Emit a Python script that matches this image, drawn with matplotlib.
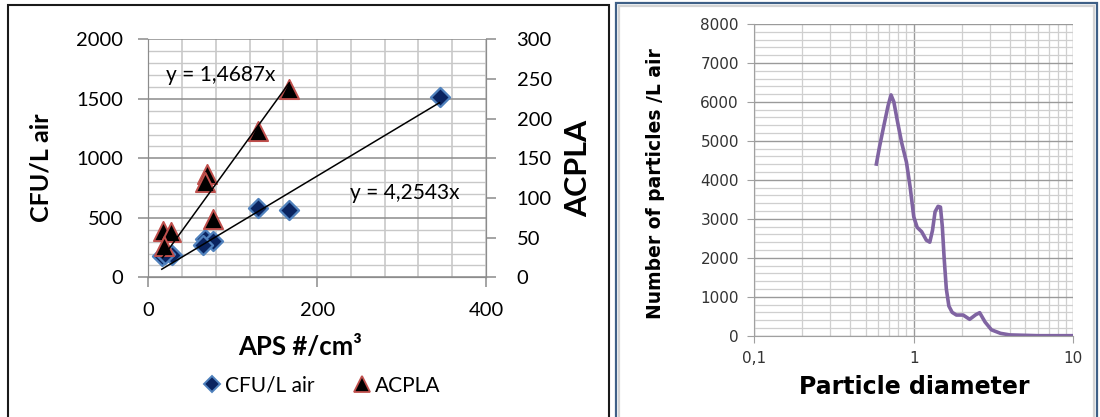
import numpy as np
import matplotlib.pyplot as plt
from matplotlib.patches import Rectangle
from matplotlib.lines import Line2D
from matplotlib.ticker import MultipleLocator, FixedLocator, FuncFormatter, LogLocator, NullFormatter

# ----------------------------------------------------------------------------
# Data
# ----------------------------------------------------------------------------
# Left panel: CFU/L air and ACPLA against APS concentration
aps_cfu = [345, 130, 167, 67, 77, 65, 16, 28, 20]
cfu_air = [1518, 580, 565, 320, 308, 272, 179, 187, 200]
aps_acpla = [167, 130, 69, 67, 77, 17, 27, 19]
acpla = [238, 184, 130, 120, 74, 58, 57, 39]
slope_cfu = 4.2543
slope_acpla = 1.4687

# Right panel: particle size distribution
diameter = [0.58, 0.61, 0.65, 0.69, 0.72, 0.75, 0.79, 0.84, 0.90, 0.95, 1.00,
            1.05, 1.12, 1.20, 1.26, 1.31, 1.36, 1.42, 1.47, 1.51, 1.55, 1.60,
            1.66, 1.74, 1.85, 2.04, 2.24, 2.45, 2.59, 2.80, 3.07, 3.5, 4.0,
            6.0, 10.0]
particles = [4360, 4850, 5400, 5900, 6180, 6000, 5500, 4950, 4450, 3800, 3050,
             2780, 2670, 2450, 2400, 2700, 3180, 3320, 3300, 2800, 2000, 1200,
             760, 600, 530, 530, 420, 540, 590, 350, 150, 60, 20,
             0, 0]
diam_ticks = [0.1, 1, 10]

plt.rcParams["font.family"] = ["Lato", "DejaVu Sans"]

fig = plt.figure(figsize=(11, 4.17), dpi=100)

# ----------------------------------------------------------------------------
# Left panel
# ----------------------------------------------------------------------------
ax = fig.add_axes([0.1348, 0.335, 0.307, 0.5707])
ax2 = ax.twinx()

ax.set_xlim(0, 400)
ax.set_ylim(0, 2000)
ax2.set_ylim(0, 300)

ax.xaxis.set_major_locator(MultipleLocator(200))
ax.xaxis.set_minor_locator(MultipleLocator(40))
ax.yaxis.set_major_locator(MultipleLocator(500))
ax.yaxis.set_minor_locator(MultipleLocator(100))
ax2.yaxis.set_major_locator(MultipleLocator(50))

ax.set_axisbelow(True)
ax.grid(True, which="major", axis="y", color="#8c8c8c", lw=1.1)
ax.grid(True, which="minor", axis="y", color="#c8c8c8", lw=1.0)
ax.grid(True, which="both", axis="x", color="#c4c4c4", lw=1.1)

for a in (ax, ax2):
    for s in a.spines.values():
        s.set_color("#8c8c8c")
    a.spines["top"].set_visible(False)
ax.tick_params(which="major", direction="out", length=7, width=1.1,
               color="#8c8c8c", labelsize=14.5, pad=11)
ax.tick_params(which="minor", length=0)
ax2.tick_params(which="major", direction="out", length=7, width=1.1,
                color="#8c8c8c", labelsize=14.5, pad=15)

# trendlines through the origin, over the span of each series
xs_cfu = np.array([min(aps_cfu), max(aps_cfu)])
xs_acpla = np.array([min(aps_acpla), max(aps_acpla)])

ax.scatter(aps_cfu, cfu_air, marker="D", s=95, c="#0a2460",
           edgecolors="#4f81bd", linewidths=1.6, zorder=3)
ax.plot(xs_cfu, slope_cfu * xs_cfu, color="black", lw=1.1, zorder=4)

ax2.scatter(aps_acpla, acpla, marker="^", s=190, c="black",
            edgecolors="#c0504d", linewidths=1.4, zorder=3)
ax2.plot(xs_acpla, slope_acpla * xs_acpla, color="black", lw=1.1, zorder=4)

ax.text(86, 1700, f"y = {slope_acpla:.4f}x".replace(".", ","), fontsize=15,
        ha="center", va="center")
ax.text(304, 706, f"y = {slope_cfu:.4f}x".replace(".", ","), fontsize=15,
        ha="center", va="center")

fig.text(0.037, 0.597, "CFU/L air", rotation=90, fontsize=18,
         fontweight="bold", ha="center", va="center")
fig.text(0.526, 0.597, "ACPLA", rotation=90, fontsize=22,
         fontweight="bold", ha="center", va="center")
fig.text(0.273, 0.168, "APS #/cm³", fontsize=18.5, fontweight="bold",
         ha="center", va="center")

handles = [
    Line2D([], [], ls="none", marker="D", ms=8, mfc="#0a2460",
           mec="#4f81bd", mew=1.4),
    Line2D([], [], ls="none", marker="^", ms=11, mfc="black",
           mec="#c0504d", mew=1.3),
]
fig.legend(handles, ["CFU/L air", "ACPLA"], loc="center",
           bbox_to_anchor=(0.292, 0.075), ncol=2, frameon=False,
           fontsize=15, handletextpad=0.1, columnspacing=1.8,
           handlelength=1.0)

fig.add_artist(Rectangle((8 / 1100, -0.02), 601 / 1100, 1 - 4.5 / 417 + 0.02,
                         transform=fig.transFigure, fill=False,
                         edgecolor="#1a1a1a", lw=1.5))

# ----------------------------------------------------------------------------
# Right panel
# ----------------------------------------------------------------------------
bx = fig.add_axes([0.6857, 0.195, 0.29, 0.7475])
bx.set_xscale("log")
bx.set_xlim(0.1, 10)
bx.set_ylim(0, 8000)

bx.xaxis.set_major_locator(FixedLocator(diam_ticks))
bx.xaxis.set_major_formatter(
    FuncFormatter(lambda v, p: f"{v:g}".replace(".", ",")))
bx.xaxis.set_minor_locator(LogLocator(base=10, subs=np.arange(2, 10)))
bx.xaxis.set_minor_formatter(NullFormatter())
bx.yaxis.set_major_locator(MultipleLocator(1000))
bx.yaxis.set_minor_locator(MultipleLocator(200))

bx.set_axisbelow(True)
bx.grid(True, which="major", color="#9a9a9a", lw=1.0)
bx.grid(True, which="minor", color="#cfcfcf", lw=0.9)
for s in bx.spines.values():
    s.set_color("#a0a0a0")
bx.spines["top"].set_visible(False)
bx.spines["right"].set_visible(False)
bx.tick_params(which="major", direction="out", length=5, color="#a0a0a0",
               labelsize=11, labelcolor="#333333", pad=6)
bx.tick_params(which="minor", length=0)
for lab in bx.get_xticklabels() + bx.get_yticklabels():
    lab.set_family("DejaVu Sans")

bx.plot(diameter, particles, color="#8064a2", lw=2.6,
        solid_joinstyle="round", solid_capstyle="butt")

fig.text(0.5955, 0.56, "Number of particles /L air", rotation=90,
         fontsize=13.5, fontweight="bold", ha="center", va="center",
         family=["Liberation Sans Narrow", "DejaVu Sans"])
fig.text(0.831, 0.073, "Particle diameter", fontsize=17, fontweight="bold",
         ha="center", va="center", family="DejaVu Sans")

fig.add_artist(Rectangle((616 / 1100, -0.02), 481 / 1100, 1 - 3 / 417 + 0.02,
                         transform=fig.transFigure, fill=False,
                         edgecolor="#3f6087", lw=1.6))
fig.add_artist(Rectangle((619 / 1100, -0.02), 475 / 1100, 1 - 6 / 417 + 0.02,
                         transform=fig.transFigure, fill=False,
                         edgecolor="#d4d4d4", lw=1.6))

fig.savefig("out.png", dpi=100)
